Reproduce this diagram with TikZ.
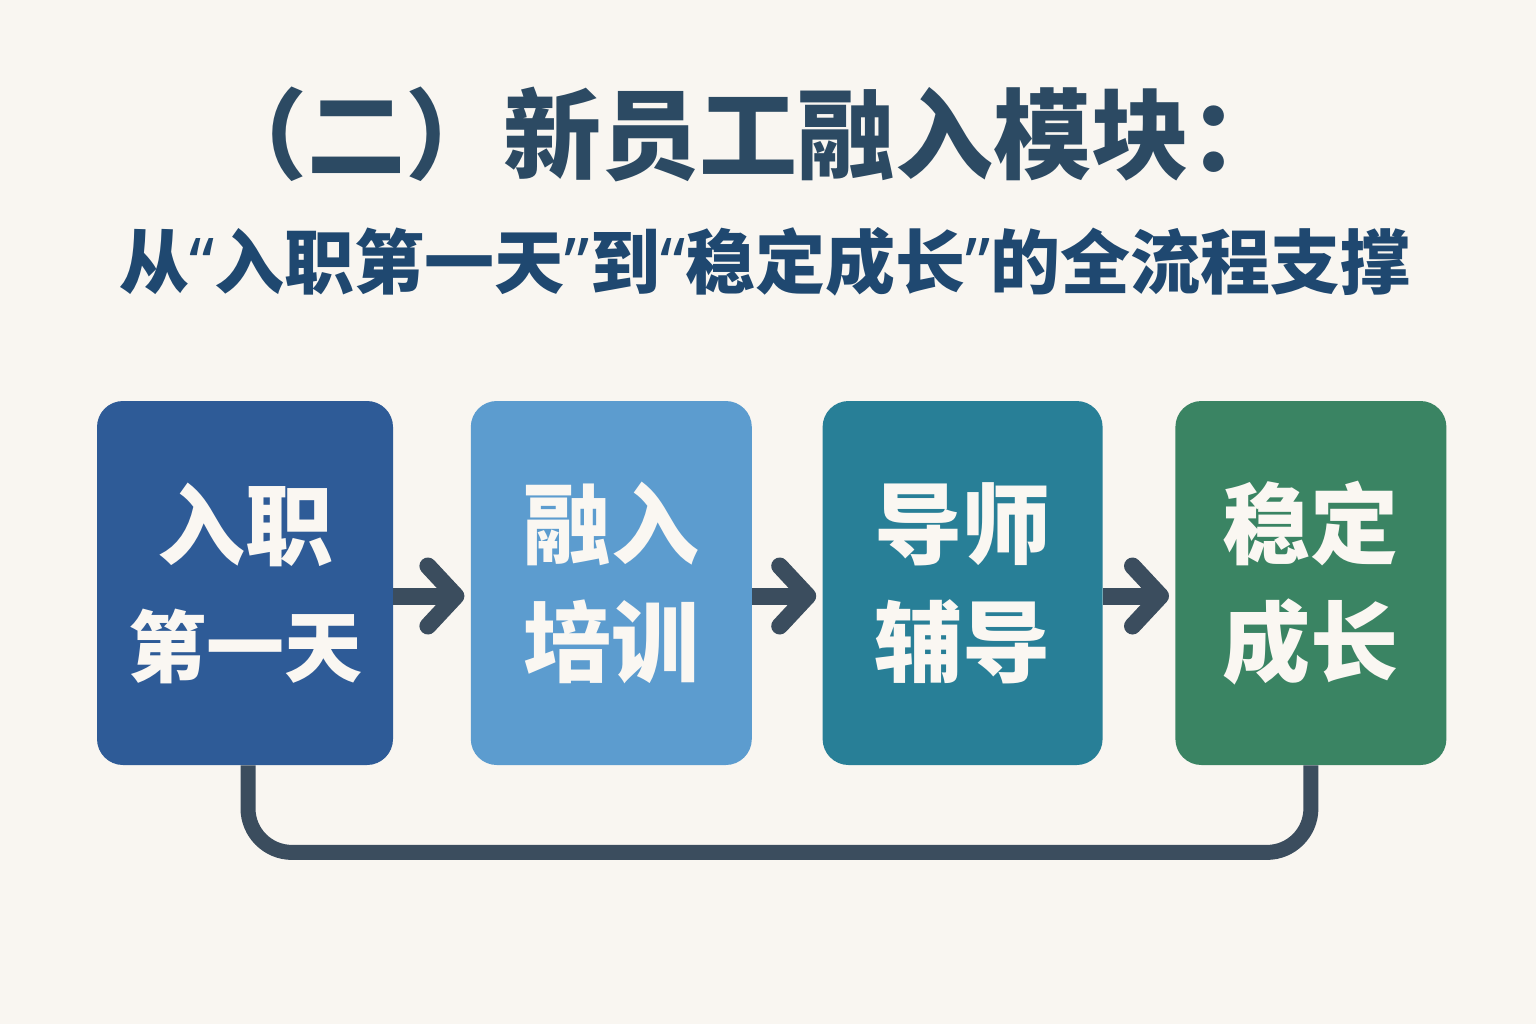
\documentclass[tikz,border=0pt]{standalone}
\usepackage{fontspec}
\newfontfamily\cjk{Noto Sans CJK SC}
\newfontfamily\quotefont{Noto Sans}
\usepackage{tikz}
\usetikzlibrary{arrows.meta,positioning}

\definecolor{bgpaper}{HTML}{F9F6F1}
\definecolor{titleink}{HTML}{2C4A63}
\definecolor{subink}{HTML}{1F4870}
\definecolor{stepA}{HTML}{2E5B97}
\definecolor{stepB}{HTML}{5C9CCF}
\definecolor{stepC}{HTML}{287F97}
\definecolor{stepD}{HTML}{3A8463}
\definecolor{linkink}{HTML}{3B4D5E}
\definecolor{boxtext}{HTML}{FAF7F2}

\newcommand{\openq}{{\quotefont\bfseries “}}
\newcommand{\closeq}{{\quotefont\bfseries ”}}

\begin{document}
\begin{tikzpicture}[x=0.5pt,y=-0.5pt,
            stepbox/.style={rectangle,rounded corners=13pt,minimum height=182pt,align=center,
              text=boxtext,font=\cjk\bfseries\fontsize{44}{59}\selectfont,inner sep=0pt},
            flow/.style={draw=linkink,line width=8.5pt,-{Straight Barb[length=14pt,width=30pt,round]},shorten >=3pt},
            loopback/.style={draw=linkink,line width=7.5pt,rounded corners=22pt}
          ]
          \fill[bgpaper] (0,0) rectangle (1536,1024);
          \useasboundingbox (0,0) rectangle (1536,1024);

          %title
          \node[text=titleink,font=\cjk\bfseries\fontsize{49}{60}\selectfont] (title) at (748,134) {（二）新员工融入模块：};
          \node[text=subink,font=\cjk\bfseries\fontsize{35}{42}\selectfont] (subtitle) at (765,262) {从\openq 入职第一天\closeq 到\openq 稳定成长\closeq 的全流程支撑};

          %steps
          \node[stepbox,fill=stepA,minimum width=148pt] (b1) at (245,583) {入职\\{\fontsize{39}{59}\selectfont 第一天}};
          \node[stepbox,fill=stepB,minimum width=140.5pt,right=38.5pt of b1] (b2) {融入\\培训};
          \node[stepbox,fill=stepC,minimum width=140pt,right=35pt of b2] (b3) {导师\\辅导};
          \node[stepbox,fill=stepD,minimum width=135.5pt,right=36pt of b3] (b4) {稳定\\成长};

          %arrows
          \draw[flow] ([yshift=-6.5pt]b1.east) -- ([yshift=-6.5pt]b2.west);
          \draw[flow] ([yshift=-6.5pt]b2.east) -- ([yshift=-6.5pt]b3.west);
          \draw[flow] ([yshift=-6.5pt]b3.east) -- ([yshift=-6.5pt]b4.west);

          %loop back
          \draw[loopback] ([xshift=1.5pt]b1.south) -- ++(0,87) -| (b4.south);

      \end{tikzpicture}
\end{document}
